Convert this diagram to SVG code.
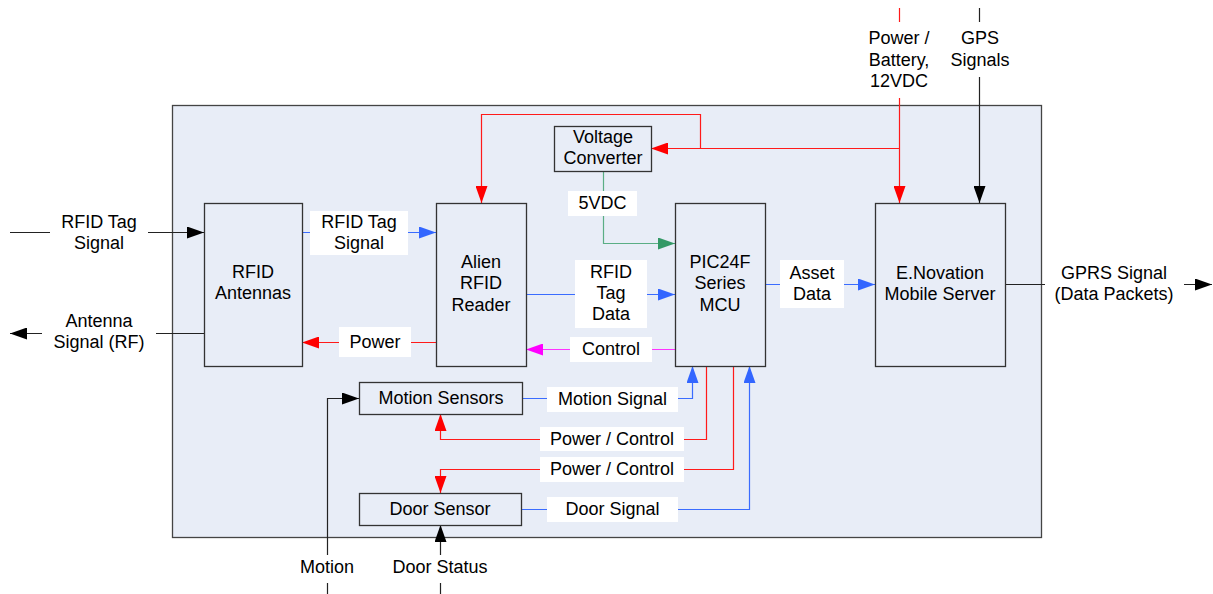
<svg xmlns="http://www.w3.org/2000/svg" width="1213" height="594" viewBox="0 0 1213 594">
<style>
text{font-family:"Liberation Sans",Arial,sans-serif;font-size:18px;fill:#000;text-anchor:middle}
.node{fill:#e8edf7;stroke:#333;stroke-width:1.3}
.lbl{fill:#fff;stroke:none}
.c{fill:none;stroke-width:1.2}
.k{stroke:#222}.b{stroke:#3a6cff}.r{stroke:#ff1a1a}.m{stroke:#ff33ff}.g{stroke:#5aae85}
</style>
<defs>
<marker id="ak" markerUnits="userSpaceOnUse" markerWidth="18" markerHeight="12" refX="17" refY="6" orient="auto"><path d="M0,0L17,6L0,12z" fill="#000"/></marker>
<marker id="ab" markerUnits="userSpaceOnUse" markerWidth="18" markerHeight="12" refX="17" refY="6" orient="auto"><path d="M0,0L17,6L0,12z" fill="#3366ff"/></marker>
<marker id="ar" markerUnits="userSpaceOnUse" markerWidth="18" markerHeight="12" refX="17" refY="6" orient="auto"><path d="M0,0L17,6L0,12z" fill="#ff0000"/></marker>
<marker id="am" markerUnits="userSpaceOnUse" markerWidth="18" markerHeight="12" refX="17" refY="6" orient="auto"><path d="M0,0L17,6L0,12z" fill="#ff00ff"/></marker>
<marker id="ag" markerUnits="userSpaceOnUse" markerWidth="18" markerHeight="12" refX="17" refY="6" orient="auto"><path d="M0,0L17,6L0,12z" fill="#339966"/></marker>
</defs>
<rect width="1213" height="594" fill="#fff"/>
<g id="container"><rect x="172.5" y="105.5" width="869" height="432" fill="#e8edf7" stroke="#444" stroke-width="1.3"/></g>

<g id="connectors">
<path class="c k" d="M10,232.5H50M148,232.5H204" marker-end="url(#ak)"/>
<path class="c k" d="M204,333.5H156M42,333.5H10" marker-end="url(#ak)"/>
<path class="c b" d="M302,232.5H436" marker-end="url(#ab)"/>
<path class="c r" d="M436,342.5H302" marker-end="url(#ar)"/>
<path class="c b" d="M526,294.5H675" marker-end="url(#ab)"/>
<path class="c m" d="M675,349.5H526" marker-end="url(#am)"/>
<path class="c b" d="M765,284.5H875" marker-end="url(#ab)"/>
<path class="c g" d="M603.5,171V243.5H675" marker-end="url(#ag)"/>
<path class="c r" d="M899.5,8V22M899.5,98V203" marker-end="url(#ar)"/>
<path class="c r" d="M899.5,148.5H651" marker-end="url(#ar)"/>
<path class="c r" d="M700.5,148.5V114.5H481.5V203" marker-end="url(#ar)"/>
<path class="c k" d="M979.5,8V22M979.5,77V203" marker-end="url(#ak)"/>
<path class="c k" d="M1005,284.5H1045M1184,284.5H1212" marker-end="url(#ak)"/>
<path class="c b" d="M522,398.5H692.5V366" marker-end="url(#ab)"/>
<path class="c r" d="M706.5,366V439.5H440.5V414" marker-end="url(#ar)"/>
<path class="c r" d="M733.5,366V469.5H440.5V493" marker-end="url(#ar)"/>
<path class="c b" d="M521,509.5H749.5V366" marker-end="url(#ab)"/>
<path class="c k" d="M327.5,594V583M327.5,555V398.5H359" marker-end="url(#ak)"/>
<path class="c k" d="M440.5,594V583M440.5,555V525" marker-end="url(#ak)"/>

<rect class="lbl" x="310" y="211" width="98" height="44"/>
<text x="359" y="228">RFID Tag</text><text x="359" y="249">Signal</text>
<rect class="lbl" x="339" y="327" width="72" height="30"/>
<text x="375" y="348">Power</text>
<rect class="lbl" x="575" y="260" width="72" height="68"/>
<text x="611" y="278">RFID</text><text x="611" y="299">Tag</text><text x="611" y="320">Data</text>
<rect class="lbl" x="570" y="337" width="82" height="25"/>
<text x="611" y="355">Control</text>
<rect class="lbl" x="780" y="260" width="64" height="48"/>
<text x="812" y="279">Asset</text><text x="812" y="300">Data</text>
<rect class="lbl" x="568" y="191" width="69" height="25"/>
<text x="602.5" y="209">5VDC</text>
<rect class="lbl" x="547" y="387" width="131" height="25"/>
<text x="612.5" y="405">Motion Signal</text>
<rect class="lbl" x="540" y="427" width="144" height="24"/>
<text x="612" y="445">Power / Control</text>
<rect class="lbl" x="540" y="457" width="144" height="25"/>
<text x="612" y="475">Power / Control</text>
<rect class="lbl" x="547" y="497" width="131" height="25"/>
<text x="612.5" y="515">Door Signal</text>

<text x="99" y="228">RFID Tag</text><text x="99" y="249">Signal</text>
<text x="99" y="327">Antenna</text><text x="99" y="348">Signal (RF)</text>
<text x="899" y="44">Power /</text><text x="899" y="66">Battery,</text><text x="899" y="87">12VDC</text>
<text x="980" y="44">GPS</text><text x="980" y="66">Signals</text>
<text x="1114" y="279">GPRS Signal</text><text x="1114" y="300">(Data Packets)</text>
<text x="327" y="573">Motion</text>
<text x="440" y="573">Door Status</text>
</g>

<g id="rfid-antennas"><rect class="node" x="204.5" y="203.5" width="98" height="163"/>
<text x="253" y="278">RFID</text><text x="253" y="299">Antennas</text></g>
<g id="alien-reader"><rect class="node" x="436.5" y="203.5" width="90" height="163"/>
<text x="481" y="268">Alien</text><text x="481" y="289">RFID</text><text x="481" y="311">Reader</text></g>
<g id="pic24f"><rect class="node" x="675.5" y="203.5" width="90" height="163"/>
<text x="720" y="268">PIC24F</text><text x="720" y="289">Series</text><text x="720" y="311">MCU</text></g>
<g id="enovation"><rect class="node" x="875.5" y="203.5" width="130" height="163"/>
<text x="940" y="279">E.Novation</text><text x="940" y="300">Mobile Server</text></g>
<g id="voltage-converter"><rect class="node" x="554.5" y="126.5" width="97" height="45"/>
<text x="603" y="143">Voltage</text><text x="603" y="164">Converter</text></g>
<g id="motion-sensors"><rect class="node" x="359.5" y="382.5" width="163" height="32"/>
<text x="441" y="404">Motion Sensors</text></g>
<g id="door-sensor"><rect class="node" x="359.5" y="493.5" width="162" height="32"/>
<text x="440" y="515">Door Sensor</text></g>
</svg>
